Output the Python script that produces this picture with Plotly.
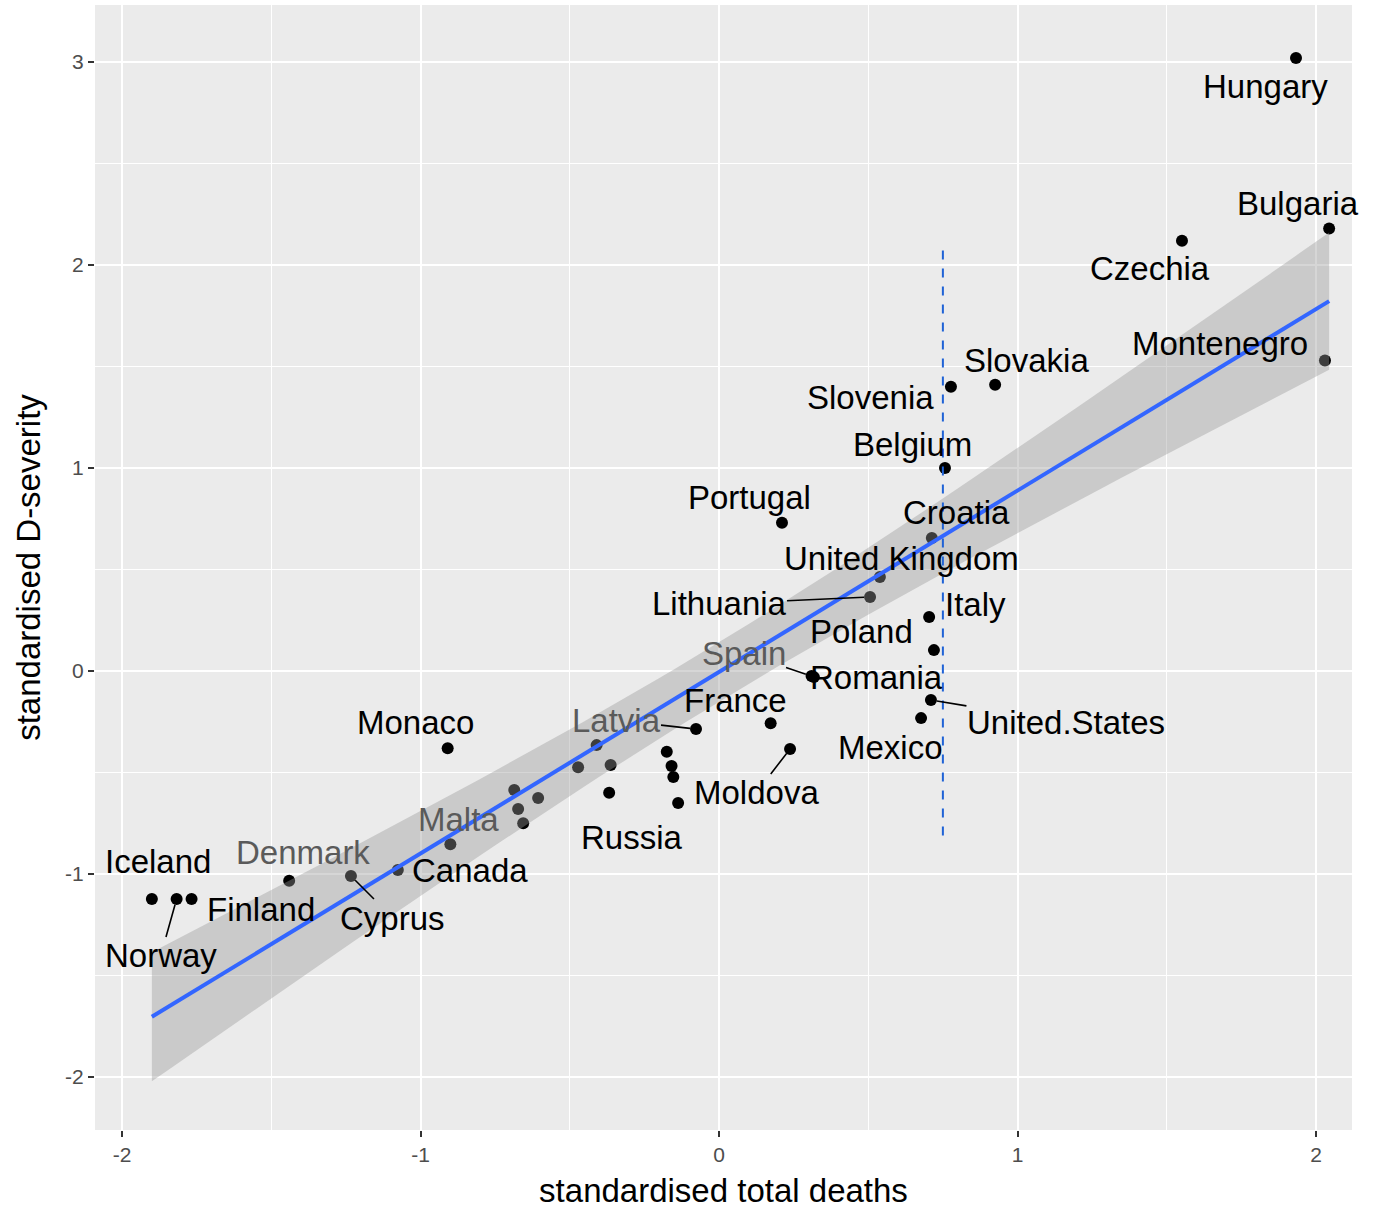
import numpy as np
import plotly.graph_objects as go

# ---------------- data ----------------
countries = ["Hungary", "Bulgaria", "Czechia", "Montenegro", "Slovakia", "Slovenia",
             "Belgium", "Portugal", "Croatia", "United Kingdom", "Lithuania", "Italy",
             "Poland", "Spain", "Romania", "United.States", "Mexico", "France", "Latvia",
             "Moldova", "Monaco", "", "", "", "Russia", "", "", "", "", "Malta",
             "", "", "", "", "Iceland", "Norway", "Finland", "Denmark", "Cyprus", "Canada"]
total_deaths = [1.933, 2.044, 1.551, 2.030, 0.925, 0.777,
                0.757, 0.211, 0.713, 0.539, 0.506, 0.704,
                0.720, 0.310, 0.318, 0.710, 0.677, 0.173, -0.077,
                0.238, -0.909, -0.410, -0.472, -0.363, -0.368, -0.686, -0.606, -0.673, -0.656, -0.900,
                -0.175, -0.159, -0.153, -0.137, -1.900, -1.817, -1.767, -1.440, -1.233, -1.076]
d_severity = [3.020, 2.180, 2.120, 1.530, 1.410, 1.400,
              1.000, 0.730, 0.655, 0.463, 0.365, 0.266,
              0.103, -0.025, -0.030, -0.143, -0.232, -0.257, -0.286,
              -0.384, -0.380, -0.365, -0.474, -0.463, -0.600, -0.586, -0.626, -0.680, -0.750, -0.853,
              -0.398, -0.468, -0.522, -0.650, -1.123, -1.123, -1.123, -1.033, -1.010, -0.980]

x_ticks = [-2, -1, 0, 1, 2]
x_tick_labels = ["-2", "-1", "0", "1", "2"]
y_ticks = [-2, -1, 0, 1, 2, 3]
y_tick_labels = ["-2", "-1", "0", "1", "2", "3"]
threshold_x = 0.75
threshold_y = [-0.81, 2.085]

# label placement (pixel offsets of label centre from point) and whether a segment is drawn
label_layout = {
    "Hungary": (-31, 29, False), "Bulgaria": (-31, -25, False), "Czechia": (-32, 28, False),
    "Montenegro": (-105, -17, False), "Slovakia": (31, -24, False), "Slovenia": (-80, 11, False),
    "Belgium": (-32, -24, False), "Portugal": (-32, -25, False), "Croatia": (25, -26, False),
    "United Kingdom": (22, -19, False), "Lithuania": (-151, 7, True), "Italy": (46, -13, False),
    "Poland": (-72, -19, False), "Spain": (-68, -23, True), "Romania": (63, 0, False),
    "United.States": (135, 22, True), "Mexico": (-31, 29, False), "France": (-35, -23, False),
    "Latvia": (-80, -9, True), "Moldova": (-34, 44, True), "Monaco": (-32, -26, False),
    "Russia": (23, 45, False), "Malta": (8, -25, False), "Iceland": (6, -37, False),
    "Norway": (-16, 57, True), "Finland": (69, 11, False), "Denmark": (14, -28, False),
    "Cyprus": (42, 42, True), "Canada": (72, 1, False),
}
under_ribbon = {"Latvia", "Malta", "Spain", "Denmark"}

FONT = "Liberation Sans, Arial, sans-serif"

# ---------------- regression (lm) with 95% CI ----------------
xa = np.array(total_deaths)
ya = np.array(d_severity)
n = len(xa)
slope, intercept = np.polyfit(xa, ya, 1)
resid = ya - (slope * xa + intercept)
sigma = np.sqrt(np.sum(resid ** 2) / (n - 2))
sxx = np.sum((xa - xa.mean()) ** 2)
xs = np.linspace(xa.min(), xa.max(), 80)
fit = slope * xs + intercept
tcrit = 2.026
se = sigma * np.sqrt(1.0 / n + (xs - xa.mean()) ** 2 / sxx)
upper = fit + tcrit * se
lower = fit - tcrit * se

fig = go.Figure()
fig.add_trace(go.Scatter(x=total_deaths, y=d_severity, mode="markers",
                         marker=dict(color="black", size=12), hoverinfo="skip", showlegend=False))
fig.add_trace(go.Scatter(x=np.concatenate([xs, xs[::-1]]), y=np.concatenate([upper, lower[::-1]]),
                         fill="toself", fillcolor="rgba(153,153,153,0.4)", line=dict(width=0),
                         mode="lines", hoverinfo="skip", showlegend=False))
fig.add_trace(go.Scatter(x=xs, y=fit, mode="lines", line=dict(color="#3366FF", width=4),
                         hoverinfo="skip", showlegend=False))

fig.add_shape(type="line", xref="x", yref="y", x0=threshold_x, x1=threshold_x,
              y0=threshold_y[0], y1=threshold_y[1],
              line=dict(color="#1F62D6", width=2, dash="dash"))

for name, xv, yv in zip(countries, total_deaths, d_severity):
    if not name or name not in label_layout:
        continue
    ax, ay, seg = label_layout[name]
    fig.add_annotation(x=xv, y=yv, xref="x", yref="y", text=name, showarrow=True,
                       ax=ax, ay=ay, arrowhead=0, arrowwidth=1.6, standoff=6,
                       arrowcolor="black" if seg else "rgba(0,0,0,0)",
                       font=dict(size=33, color="#5a5a5a" if name in under_ribbon else "black",
                                 family=FONT),
                       borderpad=0)

axis_common = dict(showline=False, zeroline=False, ticks="outside", ticklen=6, tickwidth=1.5,
                   tickcolor="#333333", gridcolor="white", gridwidth=2,
                   tickfont=dict(size=21, color="#4D4D4D", family=FONT),
                   minor=dict(showgrid=True, gridcolor="white", gridwidth=1, dtick=0.5, ticks=""))

fig.update_xaxes(**axis_common, range=[-2.0905, 2.1206], tickvals=x_ticks, ticktext=x_tick_labels,
                 title=dict(text="standardised total deaths", standoff=13,
                            font=dict(size=33, color="black", family=FONT)))
fig.update_yaxes(**axis_common, range=[-2.261, 3.281], tickvals=y_ticks, ticktext=y_tick_labels,
                 title=dict(text="standardised D-severity", standoff=14,
                            font=dict(size=33, color="black", family=FONT)))
fig.update_xaxes(minor_tick0=-2)
fig.update_yaxes(minor_tick0=-2)

fig.update_layout(width=1379, height=1210, plot_bgcolor="#EBEBEB", paper_bgcolor="white",
                  margin=dict(l=95, r=27, t=5, b=80, autoexpand=False), showlegend=False)

fig.write_html("out.html", config={"displayModeBar": False},
               post_script="document.body.style.margin='0';")
